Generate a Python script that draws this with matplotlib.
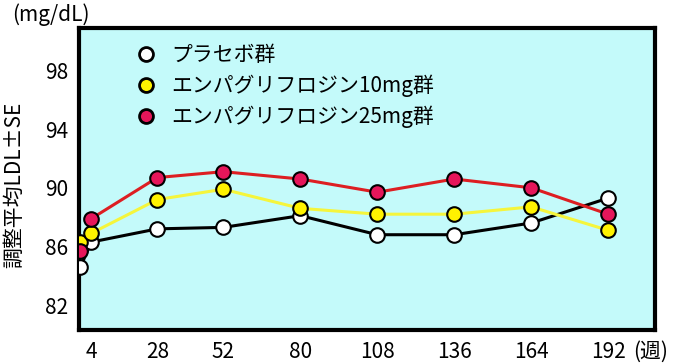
import matplotlib
matplotlib.use('Agg')
import matplotlib.pyplot as plt
from matplotlib.lines import Line2D

plt.rcParams['font.family'] = ['Noto Sans CJK JP', 'DejaVu Sans']

# weeks (0 = baseline)
weeks = [0, 4, 28, 52, 80, 108, 136, 164, 192]
tick_weeks = [4, 28, 52, 80, 108, 136, 164, 192]

placebo = [84.6, 86.3, 87.2, 87.3, 88.1, 86.8, 86.8, 87.6, 89.3]
empa10 = [86.3, 86.9, 89.2, 89.9, 88.6, 88.2, 88.2, 88.7, 87.1]
empa25 = [85.7, 87.9, 90.7, 91.1, 90.6, 89.7, 90.6, 90.0, 88.2]

labels = ['プラセボ群', 'エンパグリフロジン10mg群', 'エンパグリフロジン25mg群']
line_colors = ['black', '#F5F53C', '#DD1E22']
fill_colors = ['white', '#FFF200', '#E5165A']

fig = plt.figure(figsize=(6.77, 3.64), dpi=100)
ax = fig.add_axes([0.1167, 0.0934, 0.8508, 0.8296])
ax.set_facecolor('#C4FAFA')

series = [placebo, empa10, empa25]
for vals, lc in zip(series, line_colors):
    ax.plot(weeks, vals, color=lc, lw=2.2, zorder=2)
for vals, fc in zip(series, fill_colors):
    ax.plot(weeks, vals, ls='none', marker='o', ms=10.5, mfc=fc,
            mec='black', mew=1.5, zorder=3)

ax.set_xlim(-0.5, 209)
ax.set_ylim(80.3, 100.9)
ax.set_yticks([82, 86, 90, 94, 98])
ax.set_xticks(tick_weeks)
ax.set_xticklabels([str(w) for w in tick_weeks])
ax.tick_params(length=0, labelsize=15)
ax.tick_params(axis='x', pad=8)
ax.tick_params(axis='y', pad=8)
for sp in ax.spines.values():
    sp.set_linewidth(3)
    sp.set_color('black')

# unit after the last tick label
ax.annotate('(週)', xy=(192, 0), xycoords=ax.get_xaxis_transform(),
            xytext=(18, -16), textcoords='offset points',
            ha='left', va='center', fontsize=15, annotation_clip=False)

ax.set_ylabel('調整平均LDL±SE', fontsize=15)
ax.yaxis.set_label_coords(-0.094, 0.48)
fig.text(12 / 677, 1 - 15 / 364, '(mg/dL)', fontsize=15, va='center', ha='left')

handles = [Line2D([], [], ls='none', marker='o', ms=10, mfc=fc, mec='black', mew=2)
           for fc in fill_colors]
ax.legend(handles, labels, loc='upper left', bbox_to_anchor=(0.08, 0.975),
          frameon=False, fontsize=15, handletextpad=0.6, labelspacing=0.42,
          borderaxespad=0, handlelength=1.2)

fig.savefig('out.png', dpi=100)
